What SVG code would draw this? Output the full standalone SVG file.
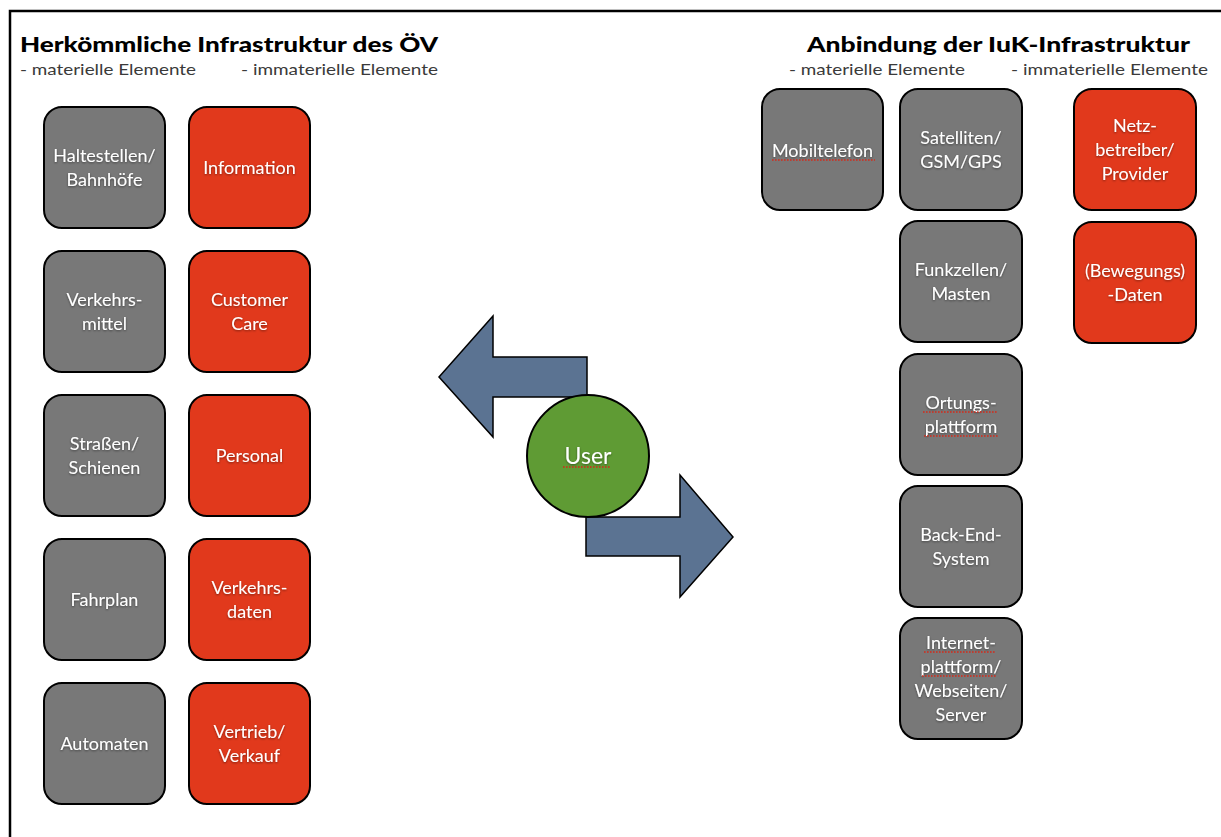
<svg xmlns="http://www.w3.org/2000/svg" width="1221" height="837" viewBox="0 0 1221 837">
<defs>
<filter id="ts" x="-20%" y="-20%" width="140%" height="160%">
<feDropShadow dx="0" dy="1" stdDeviation="1" flood-color="#000" flood-opacity="0.45"/>
</filter>
<style>
.box{stroke:#000;stroke-width:2}
.gray{fill:#787878}
.red{fill:#e1391c}
.lbl{font-family:Lato,"Open Sans","DejaVu Sans",sans-serif;font-size:18px;fill:#fff;text-anchor:middle;filter:url(#ts)}
.title{font-family:Lato,"DejaVu Sans",sans-serif;font-size:21px;font-weight:900;fill:#000}
.sub{font-family:Lato,"DejaVu Sans",sans-serif;font-size:16px;fill:#3a3a3a}
.arrow{fill:#5b7392;stroke:#000;stroke-width:1.5;stroke-linejoin:miter}
.sp{stroke:#d42a1a;stroke-width:1.3;stroke-dasharray:1.6 1.4;fill:none}
</style>
</defs>
<rect width="1221" height="837" fill="#fff"/>
<path d="M10,837 L10,11 L1221,11" fill="none" stroke="#000" stroke-width="2.5"/>

<g id="headers">
<text class="title" x="20" y="52" textLength="418" lengthAdjust="spacingAndGlyphs">Herkömmliche Infrastruktur des ÖV</text>
<text class="sub" x="20" y="75" textLength="176" lengthAdjust="spacingAndGlyphs">- materielle Elemente</text>
<text class="sub" x="241" y="75" textLength="197" lengthAdjust="spacingAndGlyphs">- immaterielle Elemente</text>
<text class="title" x="807" y="52" textLength="383" lengthAdjust="spacingAndGlyphs">Anbindung der IuK-Infrastruktur</text>
<text class="sub" x="789" y="75" textLength="176" lengthAdjust="spacingAndGlyphs">- materielle Elemente</text>
<text class="sub" x="1011" y="75" textLength="197" lengthAdjust="spacingAndGlyphs">- immaterielle Elemente</text>
</g>

<g id="connectors">
<path class="arrow" d="M439,377 L493,316 L493,357 L587,357 L587,397 L493,397 L493,437 Z"/>
<path class="arrow" d="M733,537 L680,475 L680,517 L586,517 L586,556 L680,556 L680,597 Z"/>
</g>

<g id="user">
<circle cx="588" cy="456" r="61" fill="#5f9b34" stroke="#000" stroke-width="2"/>
<text class="lbl" x="588" y="464" style="font-size:23px">User</text>
<line class="sp" x1="563" y1="467" x2="611" y2="467"/>
</g>

<!-- left gray column -->
<g id="haltestellen"><rect class="box gray" x="44" y="107" width="121" height="121" rx="18"/>
<text class="lbl" x="104.5" y="162">Haltestellen/</text><text class="lbl" x="104.5" y="186">Bahnhöfe</text></g>
<g id="verkehrsmittel"><rect class="box gray" x="44" y="251" width="121" height="121" rx="18"/>
<text class="lbl" x="104.5" y="306">Verkehrs-</text><text class="lbl" x="104.5" y="330">mittel</text></g>
<g id="strassen"><rect class="box gray" x="44" y="395" width="121" height="121" rx="18"/>
<text class="lbl" x="104.5" y="450">Straßen/</text><text class="lbl" x="104.5" y="474">Schienen</text></g>
<g id="fahrplan"><rect class="box gray" x="44" y="539" width="121" height="121" rx="18"/>
<text class="lbl" x="104.5" y="606">Fahrplan</text></g>
<g id="automaten"><rect class="box gray" x="44" y="683" width="121" height="121" rx="18"/>
<text class="lbl" x="104.5" y="750">Automaten</text></g>

<!-- left red column -->
<g id="information"><rect class="box red" x="189" y="107" width="121" height="121" rx="18"/>
<text class="lbl" x="249.5" y="174">Information</text></g>
<g id="customercare"><rect class="box red" x="189" y="251" width="121" height="121" rx="18"/>
<text class="lbl" x="249.5" y="306">Customer</text><text class="lbl" x="249.5" y="330">Care</text></g>
<g id="personal"><rect class="box red" x="189" y="395" width="121" height="121" rx="18"/>
<text class="lbl" x="249.5" y="462">Personal</text></g>
<g id="verkehrsdaten"><rect class="box red" x="189" y="539" width="121" height="121" rx="18"/>
<text class="lbl" x="249.5" y="594">Verkehrs-</text><text class="lbl" x="249.5" y="618">daten</text></g>
<g id="vertrieb"><rect class="box red" x="189" y="683" width="121" height="121" rx="18"/>
<text class="lbl" x="249.5" y="738">Vertrieb/</text><text class="lbl" x="249.5" y="762">Verkauf</text></g>

<!-- right side -->
<g id="mobiltelefon"><rect class="box gray" x="762" y="89" width="121" height="121" rx="18"/>
<text class="lbl" x="822.5" y="157">Mobiltelefon</text>
<line class="sp" x1="772" y1="160" x2="875" y2="160"/></g>
<g id="satelliten"><rect class="box gray" x="900" y="89" width="122" height="121" rx="18"/>
<text class="lbl" x="961" y="144">Satelliten/</text><text class="lbl" x="961" y="168">GSM/GPS</text></g>
<g id="funkzellen"><rect class="box gray" x="900" y="221" width="122" height="121" rx="18"/>
<text class="lbl" x="961" y="276">Funkzellen/</text><text class="lbl" x="961" y="300">Masten</text></g>
<g id="ortung"><rect class="box gray" x="900" y="354" width="122" height="121" rx="18"/>
<text class="lbl" x="961" y="409">Ortungs-</text><text class="lbl" x="961" y="433">plattform</text>
<line class="sp" x1="923" y1="412" x2="998" y2="412"/>
<line class="sp" x1="924" y1="436" x2="999" y2="436"/></g>
<g id="backend"><rect class="box gray" x="900" y="486" width="122" height="121" rx="18"/>
<text class="lbl" x="961" y="541">Back-End-</text><text class="lbl" x="961" y="565">System</text></g>
<g id="internet"><rect class="box gray" x="900" y="618" width="122" height="121" rx="18"/>
<text class="lbl" x="961" y="649">Internet-</text><text class="lbl" x="961" y="673">plattform/</text>
<text class="lbl" x="961" y="697">Webseiten/</text><text class="lbl" x="961" y="721">Server</text>
<line class="sp" x1="924" y1="652" x2="996" y2="652"/>
<line class="sp" x1="922" y1="676" x2="996" y2="676"/></g>
<g id="netzbetreiber"><rect class="box red" x="1074" y="89" width="122" height="121" rx="18"/>
<text class="lbl" x="1135" y="132">Netz-</text><text class="lbl" x="1135" y="156">betreiber/</text><text class="lbl" x="1135" y="180">Provider</text></g>
<g id="bewegungsdaten"><rect class="box red" x="1074" y="222" width="122" height="121" rx="18"/>
<text class="lbl" x="1135" y="277">(Bewegungs)</text><text class="lbl" x="1135" y="301">-Daten</text></g>
</svg>
